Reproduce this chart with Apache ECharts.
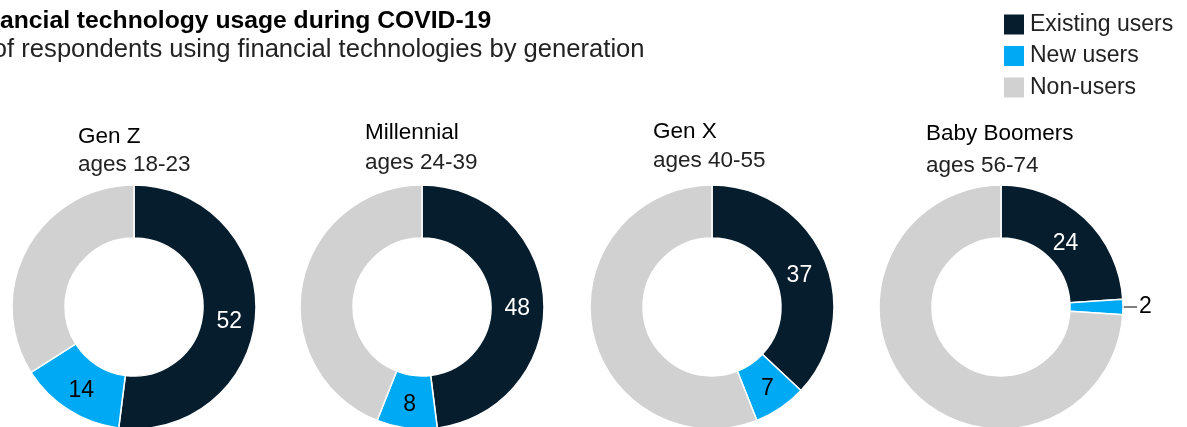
<!DOCTYPE html>
<html>
<head>
<meta charset="utf-8">
<style>
  html, body { margin: 0; padding: 0; background: #fff; }
  #chart { width: 1187px; height: 427px; }
</style>
<script src="https://cdn.jsdelivr.net/npm/echarts@6/dist/echarts.min.js"></script>
</head>
<body>
<div id="chart"></div>
<script>
// groups and their age ranges
const generations = ['Gen Z', 'Millennial', 'Gen X', 'Baby Boomers']
const ageRanges = ['ages 18-23', 'ages 24-39', 'ages 40-55', 'ages 56-74']
const segments = ['Existing users', 'New users', 'Non-users']

// % of respondents, one value per generation
const existingUsers = [52, 48, 37, 24]
const newUsers = [14, 8, 7, 2]
const nonUsers = [34, 44, 56, 74]

const colors = ['#061d2e', '#00a9f4', '#d1d1d1']
const font = 'Liberation Sans'

// layout of the four donuts
const centersX = [134, 422, 712, 1001]
const centerY = 307
const labelLeft = [78, 365, 653, 926]
const nameTop = [125, 121, 120, 122]
const ageTop = [153, 151, 149, 154]

const chart = echarts.init(document.getElementById('chart'))

const titles = [
  {
    text: 'Financial technology usage during COVID-19',
    left: -37,
    top: 9,
    padding: 0,
    textStyle: { fontFamily: font, fontSize: 24.7, fontWeight: 'bold', color: '#000' },
  },
  {
    text: '% of respondents using financial technologies by generation',
    left: -37,
    top: 37,
    padding: 0,
    textStyle: { fontFamily: font, fontSize: 25.6, fontWeight: 'normal', color: '#222' },
  },
]
generations.forEach((g, i) => {
  titles.push({
    text: g,
    left: labelLeft[i],
    top: nameTop[i],
    padding: 0,
    textStyle: { fontFamily: font, fontSize: 22.5, fontWeight: 'normal', color: '#000' },
  })
  titles.push({
    text: ageRanges[i],
    left: labelLeft[i],
    top: ageTop[i],
    padding: 0,
    textStyle: { fontFamily: font, fontSize: 22.5, fontWeight: 'normal', color: '#222' },
  })
})

const series = generations.map((g, i) => {
  const vals = [existingUsers[i], newUsers[i], nonUsers[i]]
  return {
    name: g,
    type: 'pie',
    center: [centersX[i], centerY],
    radius: [69, 122],
    startAngle: 90,
    clockwise: true,
    avoidLabelOverlap: false,
    animation: false,
    itemStyle: { borderColor: '#fff', borderWidth: 1.5 },
    emphasis: { disabled: true },
    label: {
      show: true,
      position: 'inside',
      formatter: '{c}',
      fontFamily: font,
      fontSize: 23,
    },
    // existing-user numbers sit a little lower in the original
    labelLayout: (p) => (p.dataIndex === 0 ? { dx: -3, dy: 8 } : {}),
    data: vals.map((v, k) => {
      const item = { name: segments[k], value: v, itemStyle: { color: colors[k] } }
      if (k === 0) item.label = { color: '#fff' }
      if (k === 1) {
        item.label = { color: '#000' }
        if (v < 4) {
          item.label = {
            position: 'outside',
            color: '#000',
            fontSize: 23,
            distanceToLabelLine: 2,
          }
          item.labelLine = { show: true, length: 6, length2: 8, lineStyle: { color: '#000', width: 1 } }
        }
      }
      if (k === 2) item.label = { show: false }
      return item
    }),
  }
})

chart.setOption({
  backgroundColor: '#fff',
  title: titles,
  legend: {
    orient: 'vertical',
    left: 1002,
    top: 12.5,
    padding: 0,
    itemWidth: 22,
    itemHeight: 22,
    itemGap: 7.5,
    icon: 'rect',
    selectedMode: false,
    data: segments,
    textStyle: { fontFamily: font, fontSize: 23, lineHeight: 22, color: '#222' },
  },
  series: series,
})
</script>
</body>
</html>
